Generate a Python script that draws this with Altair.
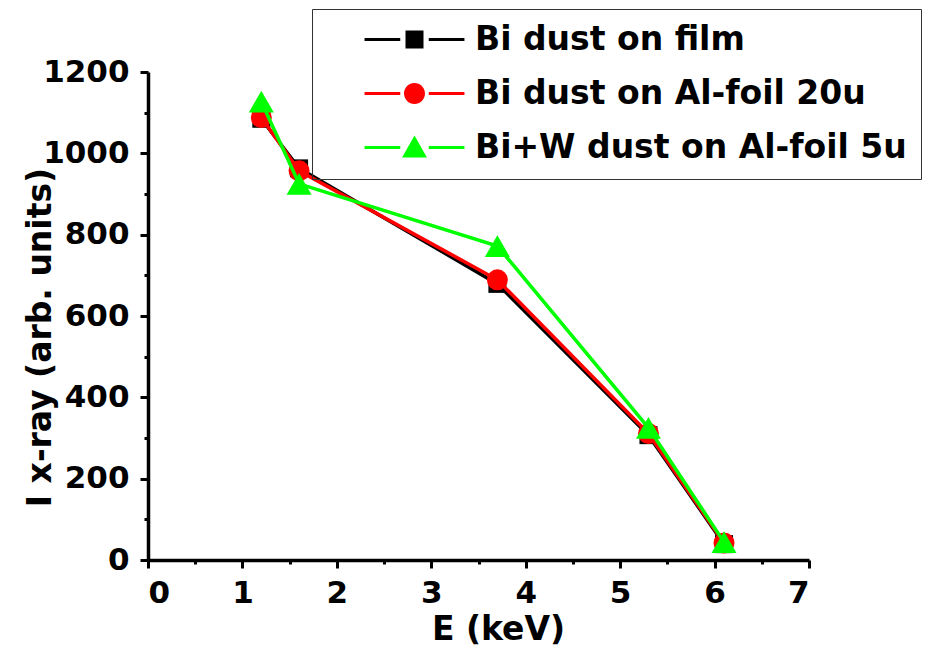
import altair as alt
import pandas as pd

energy = [1.2, 1.6, 3.7, 5.3, 6.1]
bi_film = [1085, 963, 679, 307, 39]
bi_al20 = [1088, 957, 689, 311, 42]
biw_al5 = [1127, 925, 772, 325, 44]

series_names = ["Bi dust on film", "Bi dust on Al-foil 20u", "Bi+W dust on Al-foil 5u"]
series_colors = ["#000000", "#FF0000", "#00FF00"]
series_shapes = ["square", "circle", "triangle-up"]
series_sizes = [324, 441, 625]

rows = []
for name, vals in zip(series_names, [bi_film, bi_al20, biw_al5]):
    for e, v in zip(energy, vals):
        rows.append({"E": e, "I": v, "series": name})
df = pd.DataFrame(rows)

FONT = "DejaVu Sans"

bars = "M-3.33,-0.1H-0.95V0.1H-3.33Z M0.95,-0.1H3.33V0.1H0.95Z "
legend_paths = [
    bars + "M-0.6,-0.6H0.6V0.6H-0.6Z",
    bars + "M0.7,0A0.7,0.7,0,1,1,-0.7,0A0.7,0.7,0,1,1,0.7,0Z",
    bars + "M0,-0.8L0.83,0.67H-0.83Z",
]

x_scale = alt.Scale(domain=[0, 7], nice=False, zero=False)
y_scale = alt.Scale(domain=[0, 1200], nice=False)

x_axis = alt.Axis(
    values=[i * 0.5 for i in range(15)],
    labelExpr="datum.value % 1 ? '' : format(datum.value, 'd')",
    tickSize={"condition": {"test": "datum.value % 1 !== 0", "value": 4}, "value": 8},
    grid=False,
    title="E (keV)",
    titleX=350,
    titleY=79,
    titleBaseline="alphabetic",
    labelPadding=10,
)
y_axis = alt.Axis(
    values=[i * 100 for i in range(13)],
    labelExpr="datum.value % 200 ? '' : format(datum.value, 'd')",
    tickSize={"condition": {"test": "datum.value % 200 !== 0", "value": 4}, "value": 8},
    grid=False,
    title="I x-ray (arb. units)",
    titleX=-98,
    titleY=265,
    titleBaseline="alphabetic",
    titleAlign="center",
    labelPadding=11,
)

base = alt.Chart(df)
layers = []
for i, name in enumerate(series_names):
    sub = base.transform_filter(alt.datum.series == name)
    enc = dict(
        x=alt.X("E:Q", scale=x_scale, axis=x_axis),
        y=alt.Y("I:Q", scale=y_scale, axis=y_axis),
    )
    layers.append(sub.mark_line(color=series_colors[i], strokeWidth=3.5).encode(**enc))
    layers.append(
        sub.mark_point(
            shape=series_shapes[i], filled=True, size=series_sizes[i],
            color=series_colors[i], opacity=1,
        ).encode(**enc)
    )

leg = alt.Legend(
    orient="none",
    legendX=164,
    legendY=-63,
    title=None,
    strokeColor="#333333",
    padding=14,
    rowPadding=20,
    symbolSize=900,
    symbolStrokeWidth=0,
    symbolOffset=72,
    labelOffset=44,
    labelFont=FONT,
    labelFontSize=33,
    labelFontWeight="bold",
    labelColor="black",
    labelLimit=800,
    symbolOpacity=1,
)
legend_layer = base.transform_filter("false").mark_point(filled=True, opacity=1).encode(
    x=alt.X("E:Q", scale=x_scale, axis=x_axis),
    y=alt.Y("I:Q", scale=y_scale, axis=y_axis),
    color=alt.Color("series:N", scale=alt.Scale(domain=series_names, range=series_colors), legend=leg),
    shape=alt.Shape("series:N", scale=alt.Scale(domain=series_names, range=legend_paths), legend=leg),
)
layers.append(legend_layer)

chart = alt.layer(*layers).properties(
    width=661,
    height=488,
    padding={"left": 140, "top": 64, "right": 118, "bottom": 86},
    autosize=alt.AutoSizeParams(type="none"),
).configure_view(stroke=None).configure_axis(
    domainColor="black",
    domainWidth=3.5,
    tickColor="black",
    tickWidth=3,
    labelFont=FONT,
    labelFontSize=31,
    labelFontWeight="bold",
    labelColor="black",
    titleFont=FONT,
    titleFontSize=33,
    titleFontWeight="bold",
    titleColor="black",
)

chart.save("out.html", embed_options={"renderer": "svg", "actions": False})
